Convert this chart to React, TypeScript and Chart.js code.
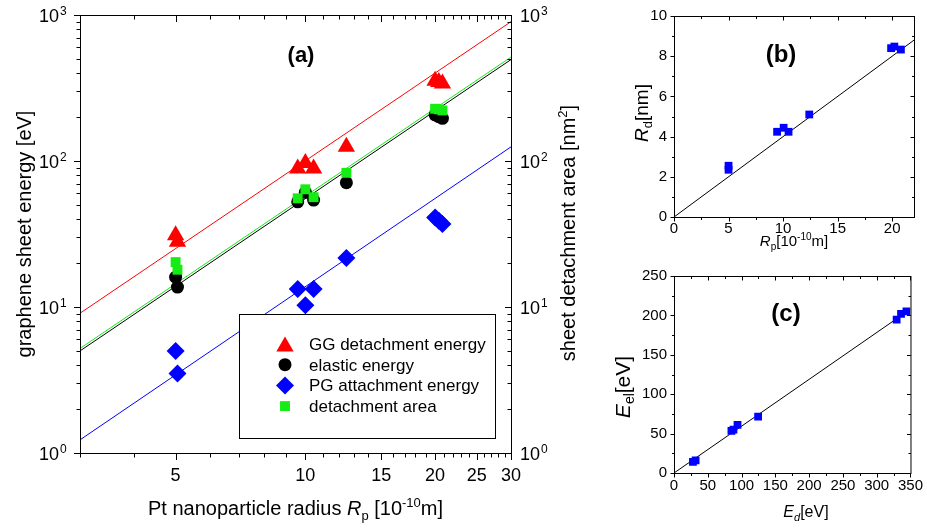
import React, { useEffect, useRef } from 'react';
import { Chart, registerables } from 'chart.js';
import { drawPoint } from 'chart.js/helpers';

Chart.register(...registerables);

const FONT = '"Liberation Sans", Arial, Helvetica, sans-serif';
const RED = '#ff0000';
const GREEN = '#14ec14';
const BLUE = '#0000ff';
const BLACK = '#000000';

// ---------------- panel (a) ----------------
const rpA = [5, 5.05, 9.6, 10, 10.45, 12.45, 20, 20.4, 20.8];
const ggDetachEnergy = [31, 28, 89, 97, 89, 125, 355, 348, 340];
const elasticEnergy = [16, 13.7, 52.5, 61, 54, 71, 207, 201, 196];
const pgAttachEnergy = [5.0, 3.5, 13.3, 10.3, 13.3, 21.7, 41, 39, 37];
const detachArea = [20.3, 18, 55.5, 64, 56.5, 83, 228, 226, 222];

const fitXA = [3, 30];
const ggFit = [9.06, 900];
const elasticFit = [5.0, 495];
const pgFit = [1.23, 125];
const areaFit = [5.2, 515];

const aXRange = [3, 30];
const aXLabels = [5, 10, 15, 20, 25, 30];
const aYDecades = [1, 10, 100, 1000];
const legendLabelsA = ['GG detachment energy', 'elastic energy', 'PG attachment energy', 'detachment area'];

// ---------------- panel (b) ----------------
const rpB = [5, 5, 9.45, 10.05, 10.5, 12.4, 19.9, 20.2, 20.8];
const rdB = [2.55, 2.35, 4.24, 4.44, 4.24, 5.1, 8.4, 8.48, 8.33];
const fitXB = [0, 22];
const fitYB = [0, 8.8];
const bXMajor = [0, 5, 10, 15, 20];
const bYMajor = [0, 2, 4, 6, 8, 10];

// ---------------- panel (c) ----------------
const edC = [28, 32, 85, 94, 88, 124.5, 329.5, 336, 344];
const eelC = [14, 16, 53.5, 61, 55, 71.5, 194.5, 202, 205];
const fitXC = [0, 350];
const fitYC = [0, 208];
const cXMajor = [0, 50, 100, 150, 200, 250, 300, 350];
const cYMajor = [0, 50, 100, 150, 200, 250];

const panelLabels = ['(a)', '(b)', '(c)'];

// ---------------- helpers ----------------
const mk = (xs: number[], ys: number[]) => xs.map((x, i) => ({ x, y: ys[i] }));

const pointSet = (label: string, xs: number[], ys: number[], color: string, style: string, r: number, order: number, yAxisID = 'y') => ({
  label,
  data: mk(xs, ys),
  showLine: false,
  pointStyle: style,
  pointRadius: r,
  pointHoverRadius: r,
  pointBackgroundColor: color,
  pointBorderColor: color,
  pointBorderWidth: 0,
  backgroundColor: color,
  borderColor: color,
  order,
  yAxisID,
});

const lineSet = (xs: number[], ys: number[], color: string, yAxisID = 'y') => ({
  label: '',
  data: mk(xs, ys),
  showLine: true,
  pointRadius: 0,
  pointHoverRadius: 0,
  borderColor: color,
  backgroundColor: color,
  borderWidth: 1,
  fill: false,
  order: 10,
  yAxisID,
});

type Seg = { t: string; s: number; i?: boolean; b?: boolean; dy?: number };
const fnt = (s: number, i?: boolean, b?: boolean) => `${i ? 'italic ' : ''}${b ? 'bold ' : ''}${s}px ${FONT}`;

function drawRich(ctx: CanvasRenderingContext2D, segs: Seg[], x: number, y: number, rot = 0) {
  ctx.save();
  ctx.translate(x, y);
  if (rot) ctx.rotate(rot);
  ctx.textBaseline = 'alphabetic';
  ctx.textAlign = 'left';
  let w = 0;
  const ws = segs.map((sg) => {
    ctx.font = fnt(sg.s, sg.i, sg.b);
    const m = ctx.measureText(sg.t).width;
    w += m;
    return m;
  });
  let cx = -w / 2;
  segs.forEach((sg, k) => {
    ctx.font = fnt(sg.s, sg.i, sg.b);
    ctx.fillText(sg.t, cx, sg.dy || 0);
    cx += ws[k];
  });
  ctx.restore();
}

function frame(ctx: CanvasRenderingContext2D, ca: any) {
  ctx.strokeRect(ca.left + 0.5, ca.top + 0.5, ca.right - ca.left, ca.bottom - ca.top);
}

function tickMarks(ctx: CanvasRenderingContext2D, scale: any, ca: any, side: string, inward: boolean, majLen: number, minLen: number) {
  ctx.beginPath();
  for (const t of scale.ticks) {
    const p = Math.round(scale.getPixelForValue(t.value)) + 0.5;
    const len = t.major ? majLen : minLen;
    if (side === 'bottom') {
      const y0 = ca.bottom + 0.5;
      ctx.moveTo(p, y0);
      ctx.lineTo(p, y0 + (inward ? -len : len));
    } else if (side === 'top') {
      const y0 = ca.top + 0.5;
      ctx.moveTo(p, y0);
      ctx.lineTo(p, y0 + (inward ? len : -len));
    } else if (side === 'left') {
      const x0 = ca.left + 0.5;
      ctx.moveTo(x0, p);
      ctx.lineTo(x0 + (inward ? len : -len), p);
    } else {
      const x0 = ca.right + 0.5;
      ctx.moveTo(x0, p);
      ctx.lineTo(x0 + (inward ? -len : len), p);
    }
  }
  ctx.stroke();
}

const logTicks = (s: any) => {
  const t: any[] = [];
  aYDecades.forEach((d, i) => {
    t.push({ value: d, major: true });
    if (i < aYDecades.length - 1) for (let k = 2; k <= 9; k++) t.push({ value: k * d, major: false });
  });
  s.ticks = t;
};

const linTicks = (majors: number[], max: number) => (s: any) => {
  const t: any[] = [];
  const step = majors[1] - majors[0];
  majors.forEach((m) => {
    t.push({ value: m, major: true });
    if (m + step / 2 <= max) t.push({ value: m + step / 2, major: false });
  });
  s.ticks = t;
};

const noGrid = { display: false, drawTicks: false };
const noBorder = { display: false };

// ---------------- plugins ----------------
const panelAPlugin = {
  id: 'panelA',
  afterDraw(chart: any) {
    const { ctx, chartArea: ca } = chart;
    const sx = chart.scales.x;
    const sy = chart.scales.y;
    const sy2 = chart.scales.y2;
    ctx.save();
    ctx.strokeStyle = BLACK;
    ctx.fillStyle = BLACK;
    ctx.lineWidth = 1;

    // legend box (white, covers fit lines)
    const lx = 239.5, ly = 314.5, lw = 256, lh = 124;
    ctx.fillStyle = '#ffffff';
    ctx.fillRect(lx, ly, lw, lh);
    ctx.strokeRect(lx, ly, lw, lh);
    ctx.fillStyle = BLACK;
    const markers = chart.data.datasets.filter((d: any) => legendLabelsA.includes(d.label));
    legendLabelsA.forEach((lab, k) => {
      const d = markers.find((m: any) => m.label === lab);
      const yy = 344 + k * 20.7;
      const dy = d.pointStyle === 'triangle' ? d.pointRadius * 0.25 : 0;
      ctx.fillStyle = d.pointBackgroundColor;
      drawPoint(ctx, { pointStyle: d.pointStyle, radius: d.pointRadius, rotation: 0, borderWidth: 0 } as any, 285, yy + dy);
      ctx.fillStyle = BLACK;
      ctx.font = fnt(17);
      ctx.textAlign = 'left';
      ctx.textBaseline = 'alphabetic';
      ctx.fillText(lab, 309, yy + 6);
    });

    frame(ctx, ca);
    tickMarks(ctx, sx, ca, 'bottom', false, 6.5, 4);
    tickMarks(ctx, sx, ca, 'top', true, 6.5, 4);
    tickMarks(ctx, sy, ca, 'left', false, 6.5, 4);
    tickMarks(ctx, sy2, ca, 'right', true, 6.5, 4);

    // log tick labels with superscripts
    for (const t of sy.ticks) {
      if (!t.major) continue;
      const y = sy.getPixelForValue(t.value);
      const e = String(Math.round(Math.log10(t.value)));
      ctx.font = fnt(18);
      ctx.textAlign = 'right';
      ctx.textBaseline = 'alphabetic';
      ctx.fillText('10', ca.left - 21, y + 6.5);
      ctx.font = fnt(12);
      ctx.textAlign = 'left';
      ctx.fillText(e, ca.left - 20, y - 0.5);
    }
    for (const t of sy2.ticks) {
      if (!t.major) continue;
      const y = sy2.getPixelForValue(t.value);
      const e = String(Math.round(Math.log10(t.value)));
      ctx.font = fnt(18);
      ctx.textAlign = 'left';
      ctx.textBaseline = 'alphabetic';
      ctx.fillText('10', ca.right + 9, y + 6.5);
      ctx.font = fnt(12);
      ctx.fillText(e, ca.right + 30, y - 0.5);
    }

    // axis titles
    drawRich(ctx, [
      { t: 'Pt nanoparticle radius ', s: 20 },
      { t: 'R', s: 20, i: true },
      { t: 'p', s: 13, dy: 5 },
      { t: ' [10', s: 20 },
      { t: '-10', s: 13, dy: -8 },
      { t: 'm]', s: 20 },
    ], (ca.left + ca.right) / 2, 515);
    drawRich(ctx, [{ t: 'graphene sheet energy [eV]', s: 20 }], 31, (ca.top + ca.bottom) / 2, -Math.PI / 2);
    drawRich(ctx, [
      { t: 'sheet detachment area [nm', s: 20 },
      { t: '2', s: 13, dy: -8 },
      { t: ']', s: 20 },
    ], 575, 233, -Math.PI / 2);

    drawRich(ctx, [{ t: panelLabels[0], s: 22, b: true }], 301, 62);
    ctx.restore();
  },
};

const panelBPlugin = {
  id: 'panelB',
  afterDraw(chart: any) {
    const { ctx, chartArea: ca } = chart;
    ctx.save();
    ctx.strokeStyle = BLACK;
    ctx.fillStyle = BLACK;
    ctx.lineWidth = 1;
    frame(ctx, ca);
    tickMarks(ctx, chart.scales.x, ca, 'bottom', false, 4, 2.5);
    tickMarks(ctx, chart.scales.x, ca, 'top', true, 4, 2.5);
    tickMarks(ctx, chart.scales.y, ca, 'left', false, 4, 2.5);
    tickMarks(ctx, chart.scales.y, ca, 'right', true, 4, 2.5);
    drawRich(ctx, [
      { t: 'R', s: 19, i: true },
      { t: 'd', s: 13, dy: 4 },
      { t: '[nm]', s: 19 },
    ], 48, 113, -Math.PI / 2);
    drawRich(ctx, [
      { t: 'R', s: 15, i: true },
      { t: 'p', s: 10, dy: 4 },
      { t: '[10', s: 15 },
      { t: '-10', s: 10, dy: -6 },
      { t: 'm]', s: 15 },
    ], 194, 246);
    drawRich(ctx, [{ t: panelLabels[1], s: 24, b: true }], 181, 62);
    ctx.restore();
  },
};

const panelCPlugin = {
  id: 'panelC',
  afterDraw(chart: any) {
    const { ctx, chartArea: ca } = chart;
    ctx.save();
    ctx.strokeStyle = BLACK;
    ctx.fillStyle = BLACK;
    ctx.lineWidth = 1;
    frame(ctx, ca);
    tickMarks(ctx, chart.scales.x, ca, 'bottom', false, 4, 2.5);
    tickMarks(ctx, chart.scales.x, ca, 'top', true, 4, 2.5);
    tickMarks(ctx, chart.scales.y, ca, 'left', false, 4, 2.5);
    tickMarks(ctx, chart.scales.y, ca, 'right', true, 4, 2.5);
    drawRich(ctx, [
      { t: 'E', s: 21, i: true },
      { t: 'el', s: 14, dy: 4 },
      { t: '[eV]', s: 21 },
    ], 30, 127, -Math.PI / 2);
    drawRich(ctx, [
      { t: 'E', s: 16, i: true },
      { t: 'd', s: 11, i: true, dy: 4 },
      { t: '[eV]', s: 16 },
    ], 206, 257);
    drawRich(ctx, [{ t: panelLabels[2], s: 24, b: true }], 186, 61);
    ctx.restore();
  },
};

const baseOptions = {
  responsive: false,
  animation: false as const,
  events: [] as any[],
  devicePixelRatio: 1,
  plugins: { legend: { display: false }, tooltip: { enabled: false } },
};

const linTickOpts = (majors: number[], padding: number, size: number) => ({
  autoSkip: false,
  maxRotation: 0,
  minRotation: 0,
  padding,
  color: BLACK,
  font: { family: FONT, size },
  callback: (v: number) => (majors.includes(v) ? String(v) : ''),
});

export default function App() {
  const refA = useRef<HTMLCanvasElement>(null);
  const refB = useRef<HTMLCanvasElement>(null);
  const refC = useRef<HTMLCanvasElement>(null);

  useEffect(() => {
    const chartA = new Chart(refA.current as HTMLCanvasElement, {
      type: 'scatter',
      data: {
        datasets: [
          pointSet(legendLabelsA[0], rpA, ggDetachEnergy, RED, 'triangle', 10, 1),
          pointSet(legendLabelsA[1], rpA, elasticEnergy, BLACK, 'circle', 6.5, 3),
          pointSet(legendLabelsA[2], rpA, pgAttachEnergy, BLUE, 'rectRot', 9, 4),
          pointSet(legendLabelsA[3], rpA, detachArea, GREEN, 'rect', 7, 2, 'y2'),
          lineSet(fitXA, ggFit, RED),
          lineSet(fitXA, elasticFit, BLACK),
          lineSet(fitXA, pgFit, BLUE),
          lineSet(fitXA, areaFit, GREEN, 'y2'),
        ] as any,
      },
      options: {
        ...baseOptions,
        layout: { padding: { top: 15, left: 0, right: 0, bottom: 0 } },
        scales: {
          x: {
            type: 'logarithmic',
            position: 'bottom',
            min: aXRange[0],
            max: aXRange[1],
            afterBuildTicks: (s: any) => {
              const t: any[] = [];
              for (let v = aXRange[0]; v <= aXRange[1]; v++) t.push({ value: v, major: aXLabels.includes(v) });
              s.ticks = t;
            },
            afterFit: (s: any) => { s.height = 76; },
            grid: noGrid,
            border: noBorder,
            ticks: linTickOpts(aXLabels, 12.5, 18),
          },
          y: {
            type: 'logarithmic',
            position: 'left',
            min: aYDecades[0],
            max: aYDecades[aYDecades.length - 1],
            afterBuildTicks: logTicks,
            afterFit: (s: any) => { s.width = 80; },
            grid: noGrid,
            border: noBorder,
            ticks: { display: false },
          },
          y2: {
            type: 'logarithmic',
            position: 'right',
            min: aYDecades[0],
            max: aYDecades[aYDecades.length - 1],
            afterBuildTicks: logTicks,
            afterFit: (s: any) => { s.width = 89; },
            grid: noGrid,
            border: noBorder,
            ticks: { display: false },
          },
        } as any,
      },
      plugins: [panelAPlugin],
    } as any);

    const chartB = new Chart(refB.current as HTMLCanvasElement, {
      type: 'scatter',
      data: {
        datasets: [
          pointSet('R_d', rpB, rdB, BLUE, 'rect', 5.5, 1),
          lineSet(fitXB, fitYB, BLACK),
        ] as any,
      },
      options: {
        ...baseOptions,
        layout: { padding: { top: 15, left: 0, right: 13, bottom: 0 } },
        scales: {
          x: {
            type: 'linear',
            min: 0,
            max: 22,
            afterBuildTicks: linTicks(bXMajor, 22),
            afterFit: (s: any) => { s.height = 43; },
            grid: noGrid,
            border: noBorder,
            ticks: linTickOpts(bXMajor, 3, 15),
          },
          y: {
            type: 'linear',
            min: 0,
            max: 10,
            afterBuildTicks: linTicks(bYMajor, 10),
            afterFit: (s: any) => { s.width = 74; },
            grid: noGrid,
            border: noBorder,
            ticks: linTickOpts(bYMajor, 7, 15),
          },
        } as any,
      },
      plugins: [panelBPlugin],
    } as any);

    const chartC = new Chart(refC.current as HTMLCanvasElement, {
      type: 'scatter',
      data: {
        datasets: [
          pointSet('E_el', edC, eelC, BLUE, 'rect', 5.5, 1),
          lineSet(fitXC, fitYC, BLACK),
        ] as any,
      },
      options: {
        ...baseOptions,
        layout: { padding: { top: 11, left: 0, right: 14, bottom: 0 } },
        scales: {
          x: {
            type: 'linear',
            min: 0,
            max: 350,
            afterBuildTicks: linTicks(cXMajor, 350),
            afterFit: (s: any) => { s.height = 56; },
            grid: noGrid,
            border: noBorder,
            ticks: linTickOpts(cXMajor, 4, 15),
          },
          y: {
            type: 'linear',
            min: 0,
            max: 250,
            afterBuildTicks: linTicks(cYMajor, 250),
            afterFit: (s: any) => { s.width = 74; },
            grid: noGrid,
            border: noBorder,
            ticks: linTickOpts(cYMajor, 7, 15),
          },
        } as any,
      },
      plugins: [panelCPlugin],
    } as any);

    return () => {
      chartA.destroy();
      chartB.destroy();
      chartC.destroy();
    };
  }, []);

  return (
    <div style={{ position: 'absolute', left: 0, top: 0, width: 927, height: 529, background: '#ffffff', overflow: 'hidden' }}>
      <canvas ref={refA} width={600} height={529} style={{ position: 'absolute', left: 0, top: 0 }} />
      <canvas ref={refB} width={327} height={260} style={{ position: 'absolute', left: 600, top: 0 }} />
      <canvas ref={refC} width={327} height={269} style={{ position: 'absolute', left: 600, top: 260 }} />
    </div>
  );
}
